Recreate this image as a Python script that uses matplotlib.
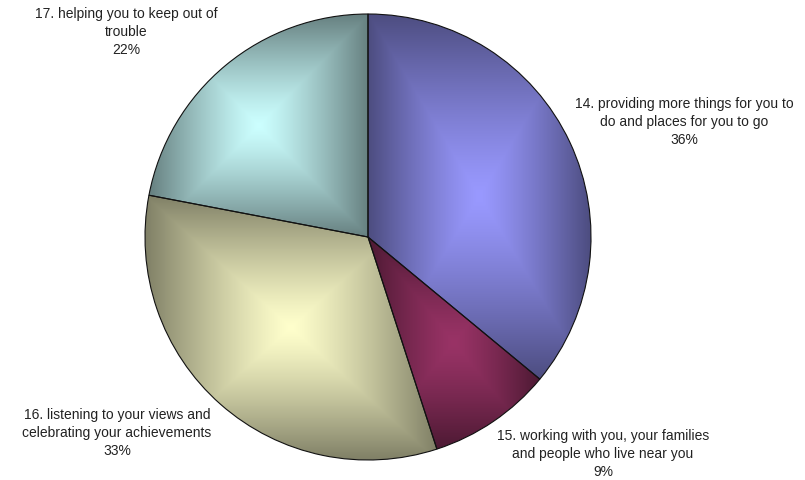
import numpy as np
import matplotlib
matplotlib.use("Agg")
import matplotlib.pyplot as plt

# slice data (clockwise from 12 o'clock)
labels = [
    "14. providing more things for you to\ndo and places for you to go",
    "15. working with you, your families\nand people who live near you",
    "16. listening to your views and\ncelebrating your achievements",
    "17. helping you to keep out of\ntrouble",
]
values = [36, 9, 33, 22]
colors = ["#9999FF", "#993366", "#FFFFCC", "#CCFFFF"]

# label anchor points in pixel coords (x, y from top)
label_pos = [(684, 122), (603, 454), (117, 433), (126, 32)]

W, H = 805, 480
fig = plt.figure(figsize=(W / 100, H / 100), dpi=100)
ax = fig.add_axes([0, 0, 1, 1])

cx, cy, R = 368, H - 237, 223
wedges, _ = ax.pie(values, startangle=90, counterclock=False,
                   center=(cx, cy), radius=R,
                   wedgeprops=dict(edgecolor="#111111", linewidth=0.8))


def rgb(h):
    h = h.lstrip("#")
    return np.array([int(h[i:i + 2], 16) for i in (0, 2, 4)]) / 255.0


# rectangular "from centre" gradient, clipped to each slice
for w, col in zip(wedges, colors):
    t1, t2 = np.radians(w.theta1), np.radians(w.theta2)
    th = np.linspace(t1, t2, 200)
    xs = np.concatenate([[cx], cx + R * np.cos(th)])
    ys = np.concatenate([[cy], cy + R * np.sin(th)])
    x0, x1, y0, y1 = xs.min(), xs.max(), ys.min(), ys.max()
    gx = np.linspace(-1, 1, 300)
    X, Y = np.meshgrid(gx, gx)
    t = np.maximum(np.abs(X), np.abs(Y)) ** 1.25
    base = rgb(col)
    img = base[None, None, :] * (1 - 0.5 * t[..., None])
    im = ax.imshow(img, extent=(x0, x1, y0, y1), origin="lower",
                   interpolation="bilinear", zorder=1)
    im.set_clip_path(w)
    w.set_facecolor("none")
    w.set_zorder(2)

for lab, v, (px, py) in zip(labels, values, label_pos):
    ax.text(px, H - py, f"{lab}\n{v}%", ha="center", va="center",
            multialignment="center", fontsize=10, color="#222222",
            family="Liberation Sans", linespacing=1.37)

ax.set_xlim(0, W)
ax.set_ylim(0, H)
ax.set_aspect("equal")
ax.axis("off")
fig.savefig("out.png", dpi=100)
